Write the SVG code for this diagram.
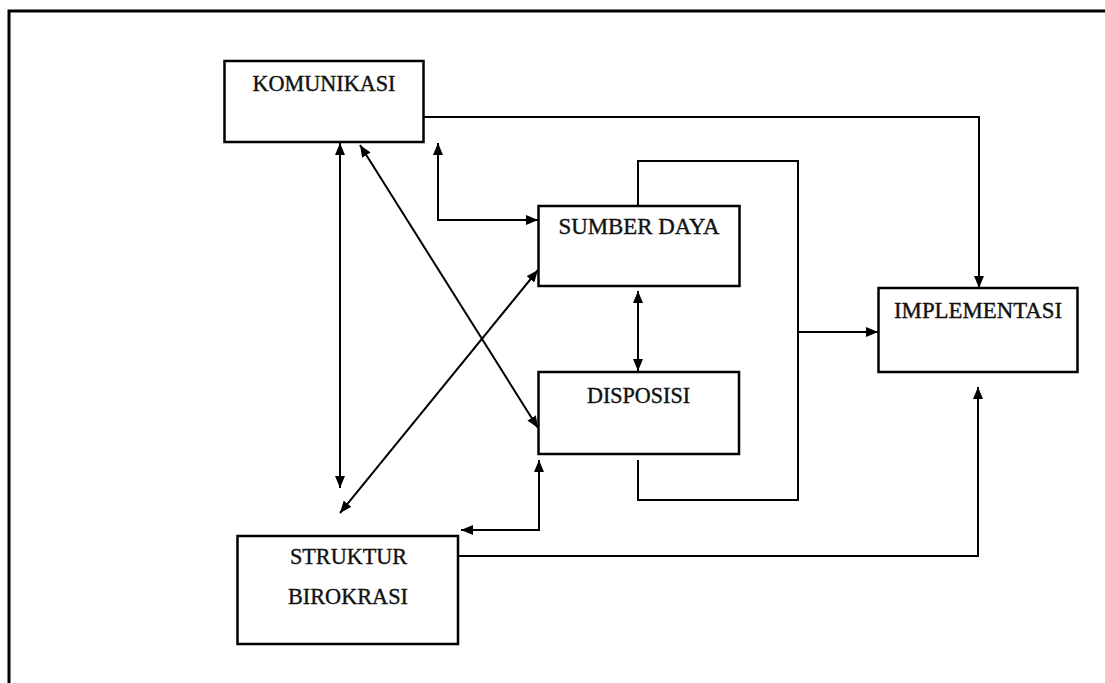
<svg xmlns="http://www.w3.org/2000/svg" width="1105" height="683" viewBox="0 0 1105 683">
<defs>
<marker id="ah" viewBox="0 0 12 10" refX="12" refY="5" markerWidth="12" markerHeight="10" markerUnits="userSpaceOnUse" orient="auto-start-reverse">
<path d="M0,0 L12,5 L0,10 Z" fill="#000"/>
</marker>
<style>
.box{fill:#fff;stroke:#000;stroke-width:2.5}
.lbl{font-family:"Liberation Serif","Times New Roman",serif;font-size:24px;fill:#111;stroke:#111;stroke-width:0.4;text-anchor:middle}
.c{fill:none;stroke:#000;stroke-width:2}
</style>
</defs>
<rect width="1105" height="683" fill="#fff"/>
<path d="M9,683 V11 H1105" fill="none" stroke="#000" stroke-width="3"/>
<g id="connectors">
<path class="c" d="M424,117 H979 V288" marker-end="url(#ah)"/>
<path class="c" d="M458,556 H978 V387" marker-end="url(#ah)"/>
<path class="c" d="M638,206 V161 H798 V500 H638 V460"/>
<path class="c" d="M798,332 H878" marker-end="url(#ah)"/>
<path class="c" d="M638,291 V371" marker-start="url(#ah)" marker-end="url(#ah)"/>
<path class="c" d="M340,143 V488" marker-start="url(#ah)" marker-end="url(#ah)"/>
<path class="c" d="M360,145 L538,428" marker-start="url(#ah)" marker-end="url(#ah)"/>
<path class="c" d="M340,513 L538,270" marker-start="url(#ah)" marker-end="url(#ah)"/>
<path class="c" d="M438,143 V220 H538" marker-start="url(#ah)" marker-end="url(#ah)"/>
<path class="c" d="M539,460 V530 H461" marker-start="url(#ah)" marker-end="url(#ah)"/>
</g>
<g id="komunikasi">
<rect class="box" x="224.5" y="61" width="199" height="81"/>
<text class="lbl" x="324" y="91" textLength="143" lengthAdjust="spacingAndGlyphs">KOMUNIKASI</text>
</g>
<g id="sumber-daya">
<rect class="box" x="538.5" y="206" width="201" height="80"/>
<text class="lbl" x="639" y="234" textLength="161" lengthAdjust="spacingAndGlyphs">SUMBER DAYA</text>
</g>
<g id="disposisi">
<rect class="box" x="538.5" y="372" width="200.5" height="82"/>
<text class="lbl" x="638.5" y="403" textLength="103" lengthAdjust="spacingAndGlyphs">DISPOSISI</text>
</g>
<g id="implementasi">
<rect class="box" x="878.5" y="288" width="199" height="84"/>
<text class="lbl" x="978" y="318" textLength="168" lengthAdjust="spacingAndGlyphs">IMPLEMENTASI</text>
</g>
<g id="struktur-birokrasi">
<rect class="box" x="237.5" y="536" width="220.5" height="108"/>
<text class="lbl" x="348.5" y="564" textLength="117" lengthAdjust="spacingAndGlyphs">STRUKTUR</text>
<text class="lbl" x="348" y="604" textLength="120" lengthAdjust="spacingAndGlyphs">BIROKRASI</text>
</g>
</svg>
